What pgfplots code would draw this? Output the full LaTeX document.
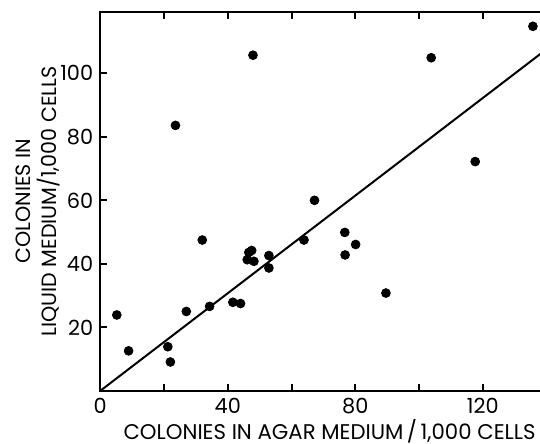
\documentclass[border=0pt]{standalone}
\usepackage{pgfplots}
\pgfplotsset{compat=1.18}
\usepackage{fontspec}
\setmainfont{Poppins}

\begin{document}
\begin{tikzpicture}
\begin{axis}[
    scale only axis,
    width=220pt, height=189pt,
    xmin=0, xmax=138.3, ymin=0, ymax=119.3,
    xtick pos=both, ytick pos=left,
    axis line style={line width=1pt},
    xtick={0,20,...,120}, xticklabels={0,,40,,80,,120},
    ytick={20,40,...,100},
    tick align=inside,
    major tick length=3.5pt,
    tick style={line width=1pt, black},
    /pgf/number format/assume math mode=true,
    tick label style={font=\fontsize{10.4}{12}\selectfont},
    xlabel={COLONIES IN AGAR MEDIUM\,/\,1,000 CELLS},
    ylabel={COLONIES IN\\LIQUID MEDIUM/1,000 CELLS},
    xlabel style={font=\fontsize{10.6}{12}\selectfont, at={(axis description cs:0.52,0)}, anchor=center, yshift=-20pt},
    ylabel style={font=\fontsize{10.3}{12.8}\selectfont, at={(axis description cs:0,0.5)}, anchor=center, yshift=31pt, align=center},
    clip=true,
]
% data points
\addplot[only marks, mark=*, mark size=2.2pt, black] coordinates {
    (5.2,23.9) (8.9,12.6) (21.2,13.9) (22.0,9.1) (27.0,25.0) (34.3,26.6)
    (41.6,27.9) (44.0,27.5) (32.0,47.5) (23.6,83.6) (47.9,105.7)
    (46.6,43.6) (47.5,44.2) (46.1,41.3) (48.2,40.8)
    (52.9,42.6) (52.9,38.7) (63.9,47.5) (67.2,60.0)
    (76.7,49.9) (80.1,46.1) (76.8,42.8) (89.6,30.8)
    (117.6,72.2) (103.8,104.9) (135.7,114.8)
};
% fitted line
\addplot[black, line width=1pt] coordinates {(0,0) (138.3,106.3)};
\end{axis}
\pgfresetboundingbox
\path (current axis.south west) ++(-50pt,-26.5pt) rectangle ([xshift=-0.6pt, yshift=6pt]current axis.north east);
\end{tikzpicture}
\end{document}
